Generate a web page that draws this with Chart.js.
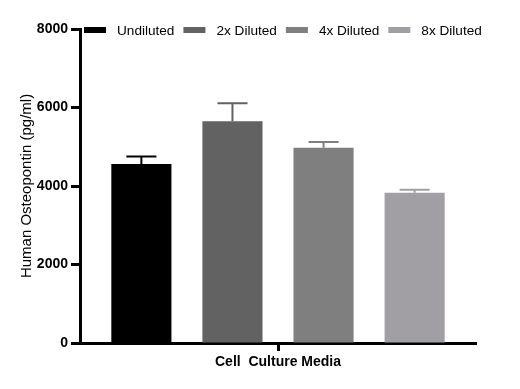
<!DOCTYPE html>
<html>
<head>
<meta charset="utf-8">
<script src="https://cdn.jsdelivr.net/npm/chart.js@4"></script>
<style>
  html, body { margin: 0; padding: 0; background: #fff; }
  #wrap { width: 520px; height: 389px; }
</style>
</head>
<body>
<div id="wrap"><canvas id="chart" width="520" height="389"></canvas></div>
<script>
const categories = ["Cell  Culture Media"];
const seriesNames = ["Undiluted", "2x Diluted", "4x Diluted", "8x Diluted"];
const means = [4560, 5650, 4975, 3825];
const errors = [190, 460, 145, 80];
const colors = ["#000000", "#626262", "#7f7f7f", "#a19fa4"];
const yTicks = [0, 2000, 4000, 6000, 8000];

const FONT = "Arial, 'Liberation Sans', sans-serif";

// error bars (upper only) drawn over each bar
const errorBars = {
    id: "errorBars",
    afterDatasetsDraw(chart) {
        const ctx = chart.ctx;
        const y = chart.scales.y;
        chart.data.datasets.forEach((ds, i) => {
            const meta = chart.getDatasetMeta(i);
            meta.data.forEach((bar, j) => {
                const top = y.getPixelForValue(ds.data[j] + ds.err[j]);
                const half = bar.width / 4;
                ctx.save();
                ctx.strokeStyle = ds.backgroundColor;
                ctx.lineWidth = 2;
                ctx.beginPath();
                ctx.moveTo(bar.x, bar.y);
                ctx.lineTo(bar.x, top);
                ctx.moveTo(bar.x - half, top);
                ctx.lineTo(bar.x + half, top);
                ctx.stroke();
                ctx.restore();
            });
        });
    }
};

// legend sitting inside the top of the plot, in one row
const topLegend = {
    id: "topLegend",
    afterDraw(chart) {
        const ctx = chart.ctx;
        const area = chart.chartArea;
        let x = area.left + 4;
        const cy = area.top + 1;
        ctx.save();
        ctx.font = "13.6px " + FONT;
        ctx.textBaseline = "middle";
        chart.data.datasets.forEach(ds => {
            ctx.fillStyle = ds.backgroundColor;
            ctx.fillRect(x, cy - 3, 22, 6);
            x += 22 + 11;
            ctx.fillStyle = "#000";
            ctx.fillText(ds.label, x, cy + 1);
            x += ctx.measureText(ds.label).width + 9;
        });
        ctx.restore();
    }
};

new Chart(document.getElementById("chart"), {
    type: "bar",
    data: {
        labels: categories,
        datasets: seriesNames.map((name, i) => ({
            label: name,
            data: [means[i]],
            err: [errors[i]],
            backgroundColor: colors[i],
            categoryPercentage: 0.92,
            barPercentage: 0.66
        }))
    },
    options: {
        responsive: false,
        animation: false,
        layout: { padding: { top: 29, right: 44, bottom: 0, left: 0 } },
        plugins: {
            legend: { display: false },
            tooltip: { enabled: false }
        },
        scales: {
            x: {
                grid: {
                    offset: false,
                    drawOnChartArea: false,
                    tickLength: 8,
                    tickWidth: 3,
                    tickColor: "#000"
                },
                border: { display: true, width: 3, color: "#000" },
                ticks: {
                    color: "#000",
                    padding: 3,
                    font: { family: FONT, size: 14, weight: "bold" }
                },
                afterFit(scale) { scale.height = 46; }
            },
            y: {
                min: 0,
                max: 8000,
                afterBuildTicks(scale) { scale.ticks = yTicks.map(v => ({ value: v })); },
                grid: {
                    drawOnChartArea: false,
                    tickLength: 9,
                    tickWidth: 3,
                    tickColor: "#000"
                },
                border: { display: true, width: 3, color: "#000" },
                ticks: {
                    color: "#000",
                    padding: 3,
                    callback: v => String(v),
                    font: { family: FONT, size: 14, weight: "bold" }
                },
                title: {
                    display: true,
                    text: "Human Osteopontin (pg/ml)",
                    color: "#000",
                    padding: { top: 18, bottom: 0 },
                    font: { family: FONT, size: 15 }
                },
                afterFit(scale) { scale.width = 80; }
            }
        }
    },
    plugins: [errorBars, topLegend]
});
</script>
</body>
</html>
